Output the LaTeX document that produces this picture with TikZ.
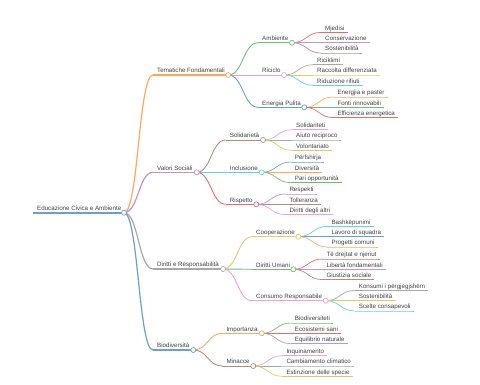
\documentclass[tikz,border=0pt]{standalone}
\usepackage{fontspec}
\setmainfont{Liberation Sans}
\usetikzlibrary{calc}
\definecolor{c0}{HTML}{1F77B4}
\definecolor{c1}{HTML}{FF7F0E}
\definecolor{c2}{HTML}{2CA02C}
\definecolor{c3}{HTML}{D62728}
\definecolor{c4}{HTML}{9467BD}
\definecolor{c5}{HTML}{8C564B}
\definecolor{c6}{HTML}{E377C2}
\definecolor{c7}{HTML}{7F7F7F}
\definecolor{c8}{HTML}{BCBD22}
\definecolor{c9}{HTML}{17BECF}
\colorlet{k0}{c0!68!white}
\colorlet{k1}{c1!68!white}
\colorlet{k2}{c2!68!white}
\colorlet{k3}{c3!68!white}
\colorlet{k4}{c4!68!white}
\colorlet{k5}{c5!68!white}
\colorlet{k6}{c6!68!white}
\colorlet{k7}{c7!68!white}
\colorlet{k8}{c8!68!white}
\colorlet{k9}{c9!68!white}
\tikzset{
  lbl/.style={font=\fontsize{6.2}{7}\selectfont, text=black!75, inner sep=0pt, anchor=base west},
  mlink/.style={to path={let \p1=(\tikztostart), \p2=(\tikztotarget) in
      .. controls ({(\x1+\x2)/2},\y1) and ({(\x1+\x2)/2},\y2) .. (\tikztotarget)}},
  mdot/.style={circle, draw, fill=white, inner sep=0pt, minimum size=5pt, line width=0.7pt},
}
% internal node: name, start, end, y, colour, width, text
\newcommand\inode[7]{%
  \coordinate (#1-s) at (#2,#4);
  \coordinate (#1-e) at (#3,#4);
  \node[lbl] (#1) at (#2+4,#4-2.2) {#7};
  \draw[#5, line width=#6] (#1-s) -- (#1-e);
}
% leaf node: name, start, y, colour, width, text
\newcommand\lnode[6]{%
  \coordinate (#1-s) at (#2,#3);
  \node[lbl] (#1) at (#2+4,#3-2.2) {#6};
  \draw[#4, line width=#5] (#1-s) -- (#1.base east |- #1-s) -- ++(3,0);
}
% link: parent, child, colour, width
\newcommand\lk[4]{\draw[#3, line width=#4] (#1-e) to[mlink] (#2-s);}
\newcommand\mdotat[2]{\node[mdot, draw=#2] (#1-c) at (#1-e) {};}
\begin{document}
\begin{tikzpicture}[x=1pt,y=-1pt]
\useasboundingbox (0,0) rectangle (480,384);
%
\inode{root}{33}{124}{212.7}{k0}{1.8pt}{Educazione Civica e Ambiente}
\inode{tf}{153}{228.3}{75}{k1}{1.2pt}{Tematiche Fondamentali}
\inode{vs}{153}{196.7}{172.3}{k4}{1.2pt}{Valori Sociali}
\inode{dr}{153}{223}{269}{k7}{1.2pt}{Diritti e Responsabilità}
\inode{bd}{153}{193.3}{350}{k0}{1.2pt}{Biodiversità}
\lk{root}{tf}{k1}{1.2pt}
\lk{root}{vs}{k4}{1.2pt}
\lk{root}{dr}{k7}{1.2pt}
\lk{root}{bd}{k0}{1.2pt}
%
\inode{amb}{258}{292}{42.7}{k2}{0.9pt}{Ambiente}
\inode{ric}{258}{284}{75}{k6}{0.9pt}{Riciclo}
\inode{ep}{258}{304.3}{107.3}{k0}{0.9pt}{Energia Pulita}
\inode{sol}{225.7}{263}{140}{k5}{0.9pt}{Solidarietà}
\inode{inc}{225.7}{261.7}{172.3}{k9}{0.9pt}{Inclusione}
\inode{ris}{225.7}{256.3}{204.3}{k3}{0.9pt}{Rispetto}
\inode{coop}{252}{298.3}{236.7}{k8}{0.9pt}{Cooperazione}
\inode{du}{252}{293.3}{269.3}{k2}{0.9pt}{Diritti Umani}
\inode{cr}{252}{325.7}{300.7}{k6}{0.9pt}{Consumo Responsabile}
\inode{imp}{222.3}{261.7}{333.3}{k1}{0.9pt}{Importanza}
\inode{min}{222.3}{253.3}{366}{k5}{0.9pt}{Minacce}
\lk{tf}{amb}{k2}{0.9pt}
\lk{tf}{ric}{k6}{0.9pt}
\lk{tf}{ep}{k0}{0.9pt}
\lk{vs}{sol}{k5}{0.9pt}
\lk{vs}{inc}{k9}{0.9pt}
\lk{vs}{ris}{k3}{0.9pt}
\lk{dr}{coop}{k8}{0.9pt}
\lk{dr}{du}{k2}{0.9pt}
\lk{dr}{cr}{k6}{0.9pt}
\lk{bd}{imp}{k1}{0.9pt}
\lk{bd}{min}{k5}{0.9pt}
% leaves
\lnode{mj}{321}{32.4}{k3}{0.7pt}{Mjedisi}
\lnode{cons}{321}{42.7}{k4}{0.7pt}{Conservazione}
\lnode{sost}{321}{53}{k5}{0.7pt}{Sostenibilità}
\lnode{rick}{313}{64.7}{k7}{0.7pt}{Riciklimi}
\lnode{racc}{313}{75}{k8}{0.7pt}{Raccolta differenziata}
\lnode{rid}{313}{85.3}{k9}{0.7pt}{Riduzione rifiuti}
\lnode{enp}{333.3}{97}{k1}{0.7pt}{Energjia e pastër}
\lnode{fonti}{333.3}{107.3}{k2}{0.7pt}{Fonti rinnovabili}
\lnode{eff}{333.3}{117.6}{k3}{0.7pt}{Efficienza energetica}
\lnode{solt}{292}{129.7}{k6}{0.7pt}{Solidariteti}
\lnode{aiuto}{292}{140}{k7}{0.7pt}{Aiuto reciproco}
\lnode{vol}{292}{150.3}{k8}{0.7pt}{Volontariato}
\lnode{perf}{290.7}{162}{k0}{0.7pt}{Përfshirja}
\lnode{div}{290.7}{172.3}{k1}{0.7pt}{Diversità}
\lnode{pari}{290.7}{182.6}{k2}{0.7pt}{Pari opportunità}
\lnode{resp}{285.3}{194}{k4}{0.7pt}{Respekti}
\lnode{toll}{285.3}{204.3}{k5}{0.7pt}{Tolleranza}
\lnode{dda}{285.3}{214.6}{k6}{0.7pt}{Diritti degli altri}
\lnode{bash}{327.3}{226.4}{k9}{0.7pt}{Bashkëpunimi}
\lnode{lav}{327.3}{236.7}{k0}{0.7pt}{Lavoro di squadra}
\lnode{prog}{327.3}{247}{k1}{0.7pt}{Progetti comuni}
\lnode{tdr}{322.3}{259}{k3}{0.7pt}{Të drejtat e njeriut}
\lnode{lib}{322.3}{269.3}{k4}{0.7pt}{Libertà fondamentali}
\lnode{giu}{322.3}{279.6}{k5}{0.7pt}{Giustizia sociale}
\lnode{kons}{354.7}{290.4}{k7}{0.7pt}{Konsumi i përgjegjshëm}
\lnode{sost2}{354.7}{300.7}{k8}{0.7pt}{Sostenibilità}
\lnode{scel}{354.7}{311}{k9}{0.7pt}{Scelte consapevoli}
\lnode{biot}{290.7}{323}{k2}{0.7pt}{Biodiversiteti}
\lnode{eco}{290.7}{333.3}{k3}{0.7pt}{Ecosistemi sani}
\lnode{equi}{290.7}{343.6}{k4}{0.7pt}{Equilibrio naturale}
\lnode{inq}{282.3}{355.7}{k6}{0.7pt}{Inquinamento}
\lnode{camb}{282.3}{366}{k7}{0.7pt}{Cambiamento climatico}
\lnode{est}{282.3}{376.3}{k8}{0.7pt}{Estinzione delle specie}
% leaf links
\lk{amb}{mj}{k3}{0.7pt}
\lk{amb}{cons}{k4}{0.7pt}
\lk{amb}{sost}{k5}{0.7pt}
\lk{ric}{rick}{k7}{0.7pt}
\lk{ric}{racc}{k8}{0.7pt}
\lk{ric}{rid}{k9}{0.7pt}
\lk{ep}{enp}{k1}{0.7pt}
\lk{ep}{fonti}{k2}{0.7pt}
\lk{ep}{eff}{k3}{0.7pt}
\lk{sol}{solt}{k6}{0.7pt}
\lk{sol}{aiuto}{k7}{0.7pt}
\lk{sol}{vol}{k8}{0.7pt}
\lk{inc}{perf}{k0}{0.7pt}
\lk{inc}{div}{k1}{0.7pt}
\lk{inc}{pari}{k2}{0.7pt}
\lk{ris}{resp}{k4}{0.7pt}
\lk{ris}{toll}{k5}{0.7pt}
\lk{ris}{dda}{k6}{0.7pt}
\lk{coop}{bash}{k9}{0.7pt}
\lk{coop}{lav}{k0}{0.7pt}
\lk{coop}{prog}{k1}{0.7pt}
\lk{du}{tdr}{k3}{0.7pt}
\lk{du}{lib}{k4}{0.7pt}
\lk{du}{giu}{k5}{0.7pt}
\lk{cr}{kons}{k7}{0.7pt}
\lk{cr}{sost2}{k8}{0.7pt}
\lk{cr}{scel}{k9}{0.7pt}
\lk{imp}{biot}{k2}{0.7pt}
\lk{imp}{eco}{k3}{0.7pt}
\lk{imp}{equi}{k4}{0.7pt}
\lk{min}{inq}{k6}{0.7pt}
\lk{min}{camb}{k7}{0.7pt}
\lk{min}{est}{k8}{0.7pt}
% circles
\mdotat{root}{k0}
\mdotat{tf}{k1}
\mdotat{vs}{k4}
\mdotat{dr}{k7}
\mdotat{bd}{k0}
\mdotat{amb}{k2}
\mdotat{ric}{k6}
\mdotat{ep}{k0}
\mdotat{sol}{k5}
\mdotat{inc}{k9}
\mdotat{ris}{k3}
\mdotat{coop}{k8}
\mdotat{du}{k2}
\mdotat{cr}{k6}
\mdotat{imp}{k1}
\mdotat{min}{k5}
\end{tikzpicture}
\end{document}
